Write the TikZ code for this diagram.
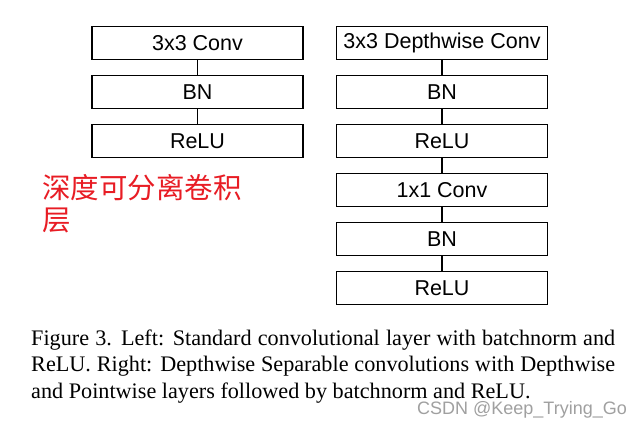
\documentclass[tikz,border=0pt]{standalone}
\usepackage{fontspec}
\setmainfont{Liberation Serif}
\newfontfamily\boxfont{Liberation Sans}
\newfontfamily\cjkfont{Noto Sans CJK SC}
\definecolor{cnred}{RGB}{232,28,36}
\definecolor{wmgray}{RGB}{160,160,160}
\tikzset{
  layerbox/.style={draw=black, line width=1.4pt, minimum width=211pt, minimum height=33pt,
    inner sep=0pt, font=\boxfont\fontsize{21.5}{24}\selectfont},
  link/.style={line width=1.4pt},
  captxt/.style={anchor=base west, inner sep=0pt, font=\fontsize{22.2}{26}\selectfont},
  cntxt/.style={anchor=base west, inner sep=0pt, text=cnred, font=\cjkfont\fontsize{28.5}{32}\selectfont}
}
\begin{document}
\begin{tikzpicture}[x=1pt,y=-1pt]
\fill[white] (0,0) rectangle (642,428);
\useasboundingbox (0,0) rectangle (642,428);
% left column
\node[layerbox] (l1) at (197.5,43) {3x3 Conv};
\node[layerbox] (l2) at (197.5,92) {BN};
\node[layerbox] (l3) at (197.5,141) {ReLU};
\draw[link] (l1.south) -- (l2.north);
\draw[link] (l2.south) -- (l3.north);
% right column
\node[layerbox] (r1) at (442,43) {3x3 Depthwise Conv};
\node[layerbox] (r2) at (442,92) {BN};
\node[layerbox] (r3) at (442,141) {ReLU};
\node[layerbox] (r4) at (442,190) {1x1 Conv};
\node[layerbox] (r5) at (442,239) {BN};
\node[layerbox] (r6) at (442,288) {ReLU};
\draw[link] (r1.south) -- (r2.north);
\draw[link] (r2.south) -- (r3.north);
\draw[link] (r3.south) -- (r4.north);
\draw[link] (r4.south) -- (r5.north);
\draw[link] (r5.south) -- (r6.north);
% chinese annotation
\node[cntxt] (cn1) at (42,198) {深度可分离卷积};
\node[cntxt] (cn2) at (42,230) {层};
% caption
\node[captxt] (c1) at (31,345) {\makebox[584pt][s]{Figure 3. Left: Standard convolutional layer with batchnorm and}};
\node[captxt] (c2) at (31,371.5) {\makebox[584pt][s]{ReLU. Right: Depthwise Separable convolutions with Depthwise}};
\node[captxt] (c3) at (31,398) {and Pointwise layers followed by batchnorm and ReLU.};
% watermark
\node[anchor=base west, inner sep=0pt, text=wmgray, font=\boxfont\fontsize{18}{20}\selectfont] (wm) at (417,414) {CSDN @Keep\_Trying\_Go};
\end{tikzpicture}
\end{document}
